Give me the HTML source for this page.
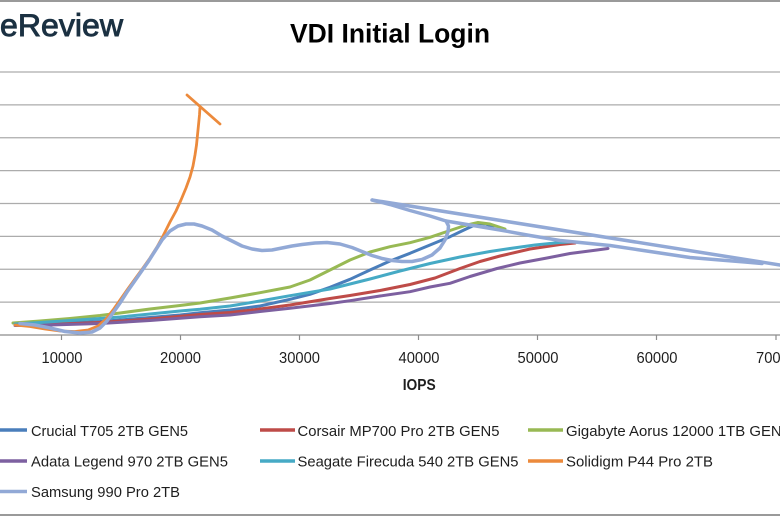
<!DOCTYPE html>
<html><head><meta charset="utf-8"><style>
html,body{margin:0;padding:0;background:#fff;}
svg{display:block;}
text{font-family:"Liberation Sans",Arial,sans-serif;}
</style></head><body>
<svg width="780" height="516" viewBox="0 0 780 516" xmlns="http://www.w3.org/2000/svg">
<rect x="0" y="0" width="780" height="516" fill="#fff"/>
<rect x="0" y="0" width="780" height="2" fill="#9a9a9a"/>
<rect x="0" y="514" width="780" height="2" fill="#9a9a9a"/>

<text x="0" y="36" font-size="31.5" fill="#1b3142" stroke="#1b3142" stroke-width="0.9" textLength="123" lengthAdjust="spacingAndGlyphs">eReview</text>
<text x="290" y="42.5" font-size="27" font-weight="bold" fill="#000" textLength="200" lengthAdjust="spacingAndGlyphs">VDI Initial Login</text>

<g stroke="#acacac" stroke-width="1.2">
<line x1="0" y1="72" x2="780" y2="72"/>
<line x1="0" y1="104.9" x2="780" y2="104.9"/>
<line x1="0" y1="137.75" x2="780" y2="137.75"/>
<line x1="0" y1="170.6" x2="780" y2="170.6"/>
<line x1="0" y1="203.5" x2="780" y2="203.5"/>
<line x1="0" y1="236.4" x2="780" y2="236.4"/>
<line x1="0" y1="269.25" x2="780" y2="269.25"/>
<line x1="0" y1="302.1" x2="780" y2="302.1"/>
</g>
<g stroke="#8c8c8c" stroke-width="1.2">
<line x1="0" y1="335" x2="780" y2="335"/>
<line x1="61.5" y1="335" x2="61.5" y2="340"/>
<line x1="180.5" y1="335" x2="180.5" y2="340"/>
<line x1="299.5" y1="335" x2="299.5" y2="340"/>
<line x1="418.5" y1="335" x2="418.5" y2="340"/>
<line x1="537.5" y1="335" x2="537.5" y2="340"/>
<line x1="656.5" y1="335" x2="656.5" y2="340"/>
<line x1="776" y1="335" x2="776" y2="340"/>
</g>
<g font-size="15.5" fill="#1e1e1e" text-anchor="middle">
<text x="62" y="363" textLength="41" lengthAdjust="spacingAndGlyphs">10000</text>
<text x="180.5" y="363" textLength="41" lengthAdjust="spacingAndGlyphs">20000</text>
<text x="299.5" y="363" textLength="41" lengthAdjust="spacingAndGlyphs">30000</text>
<text x="419" y="363" textLength="41" lengthAdjust="spacingAndGlyphs">40000</text>
<text x="538" y="363" textLength="41" lengthAdjust="spacingAndGlyphs">50000</text>
<text x="657" y="363" textLength="41" lengthAdjust="spacingAndGlyphs">60000</text>
<text x="776.5" y="363" textLength="41" lengthAdjust="spacingAndGlyphs">70000</text>
</g>
<text x="402.7" y="390" font-size="16" font-weight="bold" fill="#1e1e1e" textLength="33" lengthAdjust="spacingAndGlyphs">IOPS</text>

<g fill="none" stroke-linejoin="round" stroke-linecap="round">
<polyline stroke="#4a7ebb" stroke-width="3" points="15,325 40,324 70,323 100,321.5 120,320 150,317.5 180,315 200,312.7 230,310 260,306 290,299.3 310,294.3 330,287.3 350,279.3 370,270 390,261 410,253.3 430,245 450,236.7 465,229.5 478,223.5 486,224 493,227"/>
<polyline stroke="#be4b48" stroke-width="3" points="15,325 50,324.5 100,322.5 150,319 200,314.5 230,312.5 260,309 290,305 330,298.5 350,295.5 380,290.5 410,284.5 435,278 460,268.5 480,261.5 500,256 530,249 560,244.5 575,243"/>
<polyline stroke="#98b954" stroke-width="3" points="13,323 40,321 70,318.5 100,315.5 120,313 150,309 180,305.5 200,303 230,298 260,292.7 290,287 310,280 330,270 350,260 370,252 390,246.7 410,242.7 430,237.3 450,230.5 465,225.5 478,222.5 490,224 505,229"/>
<polyline stroke="#7d60a0" stroke-width="3" points="15,325.5 50,325 100,323.5 150,320.5 200,316.7 230,315 260,311.5 290,308.3 330,303.5 350,300.7 380,296 410,291.7 430,287 450,283.3 470,276.5 497,268.5 520,263 547,258 570,253.5 597,250 608,248.5"/>
<polyline stroke="#46aac5" stroke-width="3" points="15,324 40,322.5 70,320.5 100,318.5 120,317 150,314 180,311 200,309.3 230,306 260,301 290,295.7 330,289 370,279 400,271 430,263.5 460,257 490,251.5 510,248.5 535,245 560,242.5 570,242"/>
<polyline stroke="#ec8a3c" stroke-width="2.8" points="15,325 30,326.5 45,329 60,331 75,331.5 88,330 98,326 106,319 113,310 120,300 127,290 135,279 143,268 150,258 157,247 163,236 170,222 176,211 181,200 186,188 190,177 193,166 195,155 196.5,145 197.5,135 198.5,125 199.5,115 200,106.5 187,95 220,124"/>
<polyline stroke="#92a9d6" stroke-width="3.5" points="20,323.5 35,325 50,328 65,331.5 80,333 92,332 100,328 107,321 113,313 120,303 127,292 134,282 141,272 148,262 155,251 162,240 170,231 178,226 186,224 194,224 202,226 212,230 222,236 232,241 242,246 252,249 262,250.5 272,250 282,248 292,246 302,244.5 315,243 327,242.5 340,244 352,247.5 362,251.5 372,255.5 382,258.5 392,260.5 402,261.5 412,261.5 422,259.5 432,255 440,248 445,240 448,232 448.5,226 446,221 430,216 410,210.5 390,204.5 378,201.5 372,200 780,265"/>
<polyline stroke="#92a9d6" stroke-width="3.5" points="446,221 470,225 500,230 530,235.5 560,240.5 590,243.5 610,245.5 640,250 660,253 690,257.5 720,260 745,262 762,263.5"/>
</g>

<g stroke-width="3.5">
<line x1="0" y1="430" x2="27" y2="430" stroke="#4a7ebb"/>
<line x1="260" y1="430" x2="295" y2="430" stroke="#be4b48"/>
<line x1="528" y1="430" x2="563" y2="430" stroke="#98b954"/>
<line x1="0" y1="461" x2="27" y2="461" stroke="#7d60a0"/>
<line x1="260" y1="461" x2="295" y2="461" stroke="#46aac5"/>
<line x1="528" y1="461" x2="563" y2="461" stroke="#ec8a3c"/>
<line x1="0" y1="491.5" x2="27" y2="491.5" stroke="#92a9d6"/>
</g>
<g font-size="14.5" fill="#1e1e1e">
<text x="31" y="436" textLength="157" lengthAdjust="spacingAndGlyphs">Crucial T705 2TB GEN5</text>
<text x="297.5" y="436" textLength="202" lengthAdjust="spacingAndGlyphs">Corsair MP700 Pro 2TB GEN5</text>
<text x="566" y="436" textLength="224" lengthAdjust="spacingAndGlyphs">Gigabyte Aorus 12000 1TB GEN5</text>
<text x="31" y="466.5" textLength="197" lengthAdjust="spacingAndGlyphs">Adata Legend 970 2TB GEN5</text>
<text x="297.5" y="466.5" textLength="221" lengthAdjust="spacingAndGlyphs">Seagate Firecuda 540 2TB GEN5</text>
<text x="566" y="466.5" textLength="147" lengthAdjust="spacingAndGlyphs">Solidigm P44 Pro 2TB</text>
<text x="31" y="497" textLength="149" lengthAdjust="spacingAndGlyphs">Samsung 990 Pro 2TB</text>
</g>
</svg>
</body></html>
